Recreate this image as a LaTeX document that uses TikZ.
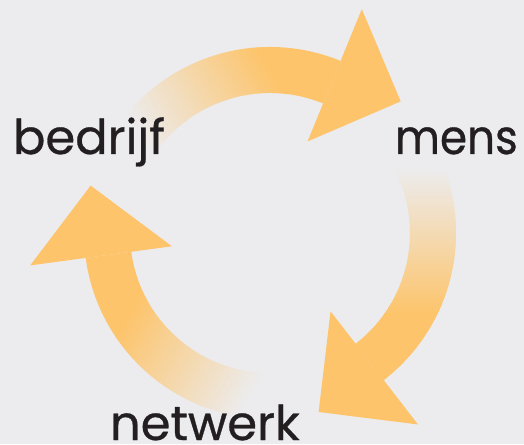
\documentclass[tikz,border=0pt]{standalone}
\usepackage{fontspec}
\setmainfont{Poppins}[FakeBold=0.6]
\newfontfamily\narrowfont{Poppins}[FakeBold=0.6, FakeStretch=0.91]
\usepackage{tikz}

\definecolor{bgc}{HTML}{ECECEE}
\definecolor{orng}{HTML}{FDC46B}
\definecolor{ink}{HTML}{231F20}

\begin{document}
\begin{tikzpicture}[x=1pt, y=1pt,
  every node/.style={inner sep=0pt, outer sep=0pt, text=ink, font=\fontsize{48}{50}\selectfont},
  cyclearrow/.pic={
    \begin{scope}
      \clip (35:140) arc[start angle=35, end angle=-52.3, radius=140]
        -- (-52.3:186) arc[start angle=-52.3, end angle=35, radius=186] -- cycle;
      \foreach \i [evaluate=\i as \p using int(\i*100/73)] in {0,...,73}
        \fill[orng!\p!bgc] (-250,{66-\i*2}) rectangle (250,{66-\i*2-2.6});
      \fill[orng] (-250,-82) rectangle (250,-260);
    \end{scope}
    \fill[orng] (-52.3:99) -- (-74.8:185.5) -- (-52.3:242) -- cycle;
  }]
\path[use as bounding box, fill=bgc] (-270,-211) rectangle (254,233);

\pic[rotate=0] {cyclearrow};
\pic[rotate=120] {cyclearrow};
\pic[rotate=240] {cyclearrow};

\node[anchor=base west] (bedrijf) at (-257,79) {bedrijf};
\node[anchor=base west, font=\fontsize{48}{50}\narrowfont] (mens) at (125,79) {mens};
\node[anchor=base west, text depth=0pt] (netwerk) at (-160,-207) {netwerk};
\end{tikzpicture}
\end{document}
